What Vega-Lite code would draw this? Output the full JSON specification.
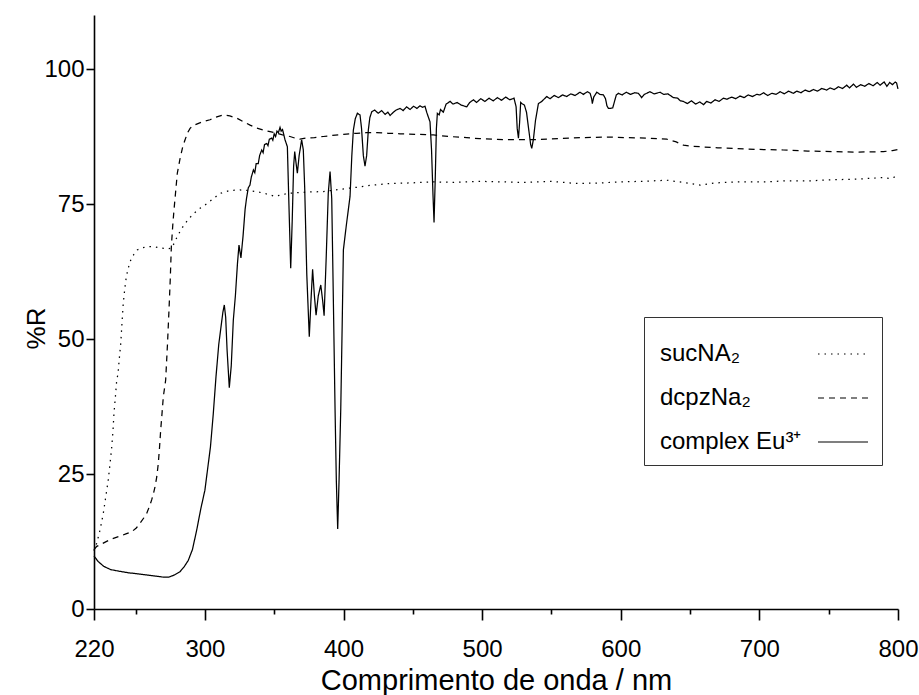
{
  "$schema": "https://vega.github.io/schema/vega-lite/v6.json",
  "width": 804,
  "height": 594,
  "autosize": "none",
  "padding": {"left": 94, "top": 15, "right": 21, "bottom": 86},
  "config": {"view": {"stroke": null}, "font": "Liberation Sans", "background": "white"},
  "data": {"values": [
{"s":"suc","nm":220,"r":10.8},{"s":"suc","nm":222,"r":12.2},{"s":"suc","nm":224.5,"r":14.8},{"s":"suc","nm":226.7,"r":17.7},{"s":"suc","nm":228.5,"r":20.8},{"s":"suc","nm":230.3,"r":23.9},{"s":"suc","nm":231.6,"r":27},{"s":"suc","nm":232.8,"r":30},{"s":"suc","nm":233.7,"r":33},{"s":"suc","nm":234.4,"r":36.2},{"s":"suc","nm":235.5,"r":39.5},{"s":"suc","nm":236.4,"r":42.4},{"s":"suc","nm":237.3,"r":43.5},{"s":"suc","nm":238.3,"r":46.5},{"s":"suc","nm":239.3,"r":49.2},{"s":"suc","nm":240.2,"r":53},{"s":"suc","nm":241.1,"r":56.6},{"s":"suc","nm":242.2,"r":59.3},{"s":"suc","nm":243.3,"r":61.5},{"s":"suc","nm":244.8,"r":63.2},{"s":"suc","nm":246.5,"r":64.6},{"s":"suc","nm":248.8,"r":65.7},{"s":"suc","nm":251.2,"r":66.5},{"s":"suc","nm":255,"r":66.9},{"s":"suc","nm":258.5,"r":67.1},{"s":"suc","nm":263.3,"r":67.1},{"s":"suc","nm":267,"r":66.9},{"s":"suc","nm":270.5,"r":66.8},{"s":"suc","nm":273,"r":66.7},{"s":"suc","nm":275.8,"r":66.8},{"s":"suc","nm":278,"r":67.8},{"s":"suc","nm":280.1,"r":69},{"s":"suc","nm":282.5,"r":70.1},{"s":"suc","nm":284.9,"r":71.1},{"s":"suc","nm":288.5,"r":72.3},{"s":"suc","nm":292.2,"r":73.3},{"s":"suc","nm":297,"r":74.3},{"s":"suc","nm":301.7,"r":75.1},{"s":"suc","nm":306.5,"r":76.1},{"s":"suc","nm":311.4,"r":77},{"s":"suc","nm":318,"r":77.5},{"s":"suc","nm":325.3,"r":77.6},{"s":"suc","nm":331,"r":77.5},{"s":"suc","nm":337.4,"r":77.3},{"s":"suc","nm":344,"r":76.9},{"s":"suc","nm":350.6,"r":76.4},{"s":"suc","nm":355,"r":76.7},{"s":"suc","nm":361.4,"r":77},{"s":"suc","nm":373,"r":77.2},{"s":"suc","nm":385.4,"r":77.3},{"s":"suc","nm":397,"r":77.7},{"s":"suc","nm":409.5,"r":78.1},{"s":"suc","nm":421,"r":78.5},{"s":"suc","nm":433.6,"r":78.8},{"s":"suc","nm":448,"r":78.9},{"s":"suc","nm":464.8,"r":79.1},{"s":"suc","nm":480,"r":79.0},{"s":"suc","nm":497,"r":79.2},{"s":"suc","nm":512.9,"r":79.1},{"s":"suc","nm":530,"r":79.0},{"s":"suc","nm":550,"r":79.2},{"s":"suc","nm":568,"r":78.8},{"s":"suc","nm":585,"r":78.9},{"s":"suc","nm":600,"r":79.1},{"s":"suc","nm":615,"r":79.2},{"s":"suc","nm":633.2,"r":79.4},{"s":"suc","nm":645,"r":79.0},{"s":"suc","nm":657.2,"r":78.5},{"s":"suc","nm":668,"r":78.9},{"s":"suc","nm":685,"r":79.1},{"s":"suc","nm":705.3,"r":79.1},{"s":"suc","nm":720,"r":79.3},{"s":"suc","nm":737,"r":79.3},{"s":"suc","nm":753.4,"r":79.5},{"s":"suc","nm":770,"r":79.6},{"s":"suc","nm":789.5,"r":79.9},{"s":"suc","nm":795,"r":79.7},{"s":"suc","nm":800,"r":80.3},
{"s":"dcpz","nm":220,"r":11.0},{"s":"dcpz","nm":222,"r":11.6},{"s":"dcpz","nm":226.7,"r":12.2},{"s":"dcpz","nm":232,"r":12.9},{"s":"dcpz","nm":238.8,"r":13.5},{"s":"dcpz","nm":243,"r":13.9},{"s":"dcpz","nm":247.2,"r":14.3},{"s":"dcpz","nm":250.5,"r":15.0},{"s":"dcpz","nm":253.2,"r":15.9},{"s":"dcpz","nm":256,"r":16.9},{"s":"dcpz","nm":258,"r":17.7},{"s":"dcpz","nm":260,"r":19.0},{"s":"dcpz","nm":261.6,"r":20.2},{"s":"dcpz","nm":263,"r":21.5},{"s":"dcpz","nm":264,"r":22.6},{"s":"dcpz","nm":265.3,"r":24.5},{"s":"dcpz","nm":266.4,"r":27},{"s":"dcpz","nm":267.3,"r":30},{"s":"dcpz","nm":268.1,"r":33.1},{"s":"dcpz","nm":269,"r":36},{"s":"dcpz","nm":270,"r":39.3},{"s":"dcpz","nm":271.7,"r":42.4},{"s":"dcpz","nm":273,"r":49},{"s":"dcpz","nm":274.1,"r":55.4},{"s":"dcpz","nm":275,"r":61},{"s":"dcpz","nm":275.8,"r":67.1},{"s":"dcpz","nm":276.8,"r":71},{"s":"dcpz","nm":277.7,"r":73.9},{"s":"dcpz","nm":278.8,"r":77},{"s":"dcpz","nm":280.1,"r":80.7},{"s":"dcpz","nm":282,"r":83.3},{"s":"dcpz","nm":284,"r":85.6},{"s":"dcpz","nm":285.7,"r":86.9},{"s":"dcpz","nm":287.5,"r":88.2},{"s":"dcpz","nm":289.3,"r":89},{"s":"dcpz","nm":291.5,"r":89.5},{"s":"dcpz","nm":294.1,"r":89.8},{"s":"dcpz","nm":298,"r":90.2},{"s":"dcpz","nm":303.7,"r":90.6},{"s":"dcpz","nm":308,"r":91.1},{"s":"dcpz","nm":313.3,"r":91.5},{"s":"dcpz","nm":318,"r":91.3},{"s":"dcpz","nm":323,"r":90.9},{"s":"dcpz","nm":328,"r":90.2},{"s":"dcpz","nm":332.6,"r":89.6},{"s":"dcpz","nm":337,"r":89.1},{"s":"dcpz","nm":342.2,"r":88.7},{"s":"dcpz","nm":347,"r":88.4},{"s":"dcpz","nm":351.8,"r":88.1},{"s":"dcpz","nm":356,"r":87.8},{"s":"dcpz","nm":361.4,"r":87.5},{"s":"dcpz","nm":365,"r":87.2},{"s":"dcpz","nm":368.6,"r":87},{"s":"dcpz","nm":373,"r":87.2},{"s":"dcpz","nm":379,"r":87.3},{"s":"dcpz","nm":385.4,"r":87.5},{"s":"dcpz","nm":392,"r":87.7},{"s":"dcpz","nm":400,"r":87.9},{"s":"dcpz","nm":409.5,"r":88.1},{"s":"dcpz","nm":416,"r":88.2},{"s":"dcpz","nm":424,"r":88.2},{"s":"dcpz","nm":432,"r":88.1},{"s":"dcpz","nm":440.8,"r":88},{"s":"dcpz","nm":452,"r":87.9},{"s":"dcpz","nm":464.8,"r":87.8},{"s":"dcpz","nm":476,"r":87.5},{"s":"dcpz","nm":488.9,"r":87.3},{"s":"dcpz","nm":498,"r":87.1},{"s":"dcpz","nm":508.1,"r":87},{"s":"dcpz","nm":520,"r":86.9},{"s":"dcpz","nm":537,"r":86.9},{"s":"dcpz","nm":555,"r":87.1},{"s":"dcpz","nm":573,"r":87.3},{"s":"dcpz","nm":590,"r":87.4},{"s":"dcpz","nm":604.3,"r":87.3},{"s":"dcpz","nm":620,"r":87.2},{"s":"dcpz","nm":633.2,"r":87},{"s":"dcpz","nm":640,"r":86.5},{"s":"dcpz","nm":645.2,"r":85.9},{"s":"dcpz","nm":651,"r":85.7},{"s":"dcpz","nm":657.2,"r":85.6},{"s":"dcpz","nm":670,"r":85.4},{"s":"dcpz","nm":681.3,"r":85.3},{"s":"dcpz","nm":700,"r":85.1},{"s":"dcpz","nm":717.3,"r":85},{"s":"dcpz","nm":735,"r":84.8},{"s":"dcpz","nm":753.4,"r":84.7},{"s":"dcpz","nm":770,"r":84.6},{"s":"dcpz","nm":789.5,"r":84.7},{"s":"dcpz","nm":796,"r":84.9},{"s":"dcpz","nm":800,"r":85.1},
{"s":"eu","nm":220,"r":9.8},{"s":"eu","nm":223,"r":8.8},{"s":"eu","nm":227,"r":7.9},{"s":"eu","nm":232,"r":7.3},{"s":"eu","nm":238,"r":7.0},{"s":"eu","nm":245,"r":6.7},{"s":"eu","nm":252,"r":6.5},{"s":"eu","nm":258,"r":6.3},{"s":"eu","nm":264,"r":6.1},{"s":"eu","nm":270,"r":5.9},{"s":"eu","nm":274,"r":5.9},{"s":"eu","nm":278,"r":6.3},{"s":"eu","nm":282,"r":6.9},{"s":"eu","nm":285,"r":7.8},{"s":"eu","nm":288,"r":9.0},{"s":"eu","nm":291,"r":11.0},{"s":"eu","nm":294,"r":14.5},{"s":"eu","nm":297,"r":18.5},{"s":"eu","nm":300,"r":22.0},{"s":"eu","nm":302,"r":26},{"s":"eu","nm":304,"r":30},{"s":"eu","nm":306,"r":36},{"s":"eu","nm":308,"r":43},{"s":"eu","nm":310,"r":49},{"s":"eu","nm":311.5,"r":52},{"s":"eu","nm":313,"r":55},{"s":"eu","nm":314,"r":56.3},{"s":"eu","nm":315,"r":54},{"s":"eu","nm":316,"r":48},{"s":"eu","nm":317.6,"r":41},{"s":"eu","nm":319,"r":45},{"s":"eu","nm":320.5,"r":53.5},{"s":"eu","nm":322,"r":58},{"s":"eu","nm":323.5,"r":64},{"s":"eu","nm":324.6,"r":67.4},{"s":"eu","nm":326,"r":65},{"s":"eu","nm":327.5,"r":69},{"s":"eu","nm":329,"r":74},{"s":"eu","nm":330,"r":76},{"s":"eu","nm":331.3,"r":78},{"s":"eu","nm":332.5,"r":78.5},{"s":"eu","nm":333.5,"r":80},{"s":"eu","nm":335,"r":81.3},{"s":"eu","nm":336,"r":80.8},{"s":"eu","nm":337,"r":82.5},{"s":"eu","nm":338.5,"r":82.5},{"s":"eu","nm":339.5,"r":84},{"s":"eu","nm":341,"r":85},{"s":"eu","nm":342,"r":84.5},{"s":"eu","nm":343,"r":86},{"s":"eu","nm":344.6,"r":86.2},{"s":"eu","nm":345.5,"r":85.8},{"s":"eu","nm":346.5,"r":87},{"s":"eu","nm":348.2,"r":87.2},{"s":"eu","nm":349,"r":86.8},{"s":"eu","nm":350,"r":88},{"s":"eu","nm":351,"r":87.5},{"s":"eu","nm":352,"r":88.5},{"s":"eu","nm":353,"r":88.2},{"s":"eu","nm":354.2,"r":89.2},{"s":"eu","nm":355,"r":88.5},{"s":"eu","nm":356,"r":88.8},{"s":"eu","nm":357.8,"r":86.9},{"s":"eu","nm":359.5,"r":85.6},{"s":"eu","nm":360.5,"r":76},{"s":"eu","nm":361.9,"r":63.1},{"s":"eu","nm":363,"r":72},{"s":"eu","nm":364,"r":82},{"s":"eu","nm":364.8,"r":84.7},{"s":"eu","nm":365.8,"r":82.5},{"s":"eu","nm":366.7,"r":80.7},{"s":"eu","nm":368,"r":84},{"s":"eu","nm":369.8,"r":86.9},{"s":"eu","nm":371,"r":85},{"s":"eu","nm":372,"r":78},{"s":"eu","nm":373.5,"r":62},{"s":"eu","nm":375.3,"r":50.4},{"s":"eu","nm":376.5,"r":57},{"s":"eu","nm":377.7,"r":62.9},{"s":"eu","nm":379,"r":58},{"s":"eu","nm":380.2,"r":54.4},{"s":"eu","nm":381.8,"r":58},{"s":"eu","nm":383.6,"r":60},{"s":"eu","nm":385,"r":57},{"s":"eu","nm":386,"r":54.3},{"s":"eu","nm":387.5,"r":65},{"s":"eu","nm":389,"r":77},{"s":"eu","nm":390.3,"r":81},{"s":"eu","nm":391.5,"r":76},{"s":"eu","nm":392.5,"r":60},{"s":"eu","nm":393.9,"r":36.9},{"s":"eu","nm":394.8,"r":24},{"s":"eu","nm":395.8,"r":14.8},{"s":"eu","nm":396.8,"r":24},{"s":"eu","nm":398,"r":36.9},{"s":"eu","nm":399,"r":52},{"s":"eu","nm":399.9,"r":66.5},{"s":"eu","nm":402,"r":71},{"s":"eu","nm":404.7,"r":76.4},{"s":"eu","nm":406,"r":84},{"s":"eu","nm":407.1,"r":88.7},{"s":"eu","nm":408.5,"r":90.8},{"s":"eu","nm":410,"r":91.8},{"s":"eu","nm":411.9,"r":91.5},{"s":"eu","nm":413,"r":89},{"s":"eu","nm":414.3,"r":84},{"s":"eu","nm":415.5,"r":82},{"s":"eu","nm":416.7,"r":84},{"s":"eu","nm":417.9,"r":88.7},{"s":"eu","nm":419,"r":91},{"s":"eu","nm":420.4,"r":92.1},{"s":"eu","nm":422.5,"r":92.4},{"s":"eu","nm":425,"r":91.8},{"s":"eu","nm":427.5,"r":92.3},{"s":"eu","nm":430,"r":91.6},{"s":"eu","nm":432,"r":92.0},{"s":"eu","nm":433.6,"r":91.4},{"s":"eu","nm":436,"r":92.0},{"s":"eu","nm":438,"r":92.4},{"s":"eu","nm":440.8,"r":92.7},{"s":"eu","nm":443,"r":92.3},{"s":"eu","nm":445.5,"r":93.0},{"s":"eu","nm":448,"r":92.5},{"s":"eu","nm":450.5,"r":93.1},{"s":"eu","nm":453,"r":92.7},{"s":"eu","nm":455.2,"r":93.2},{"s":"eu","nm":457,"r":92.9},{"s":"eu","nm":458.8,"r":93.1},{"s":"eu","nm":460,"r":92.0},{"s":"eu","nm":462.4,"r":90.2},{"s":"eu","nm":463.5,"r":85},{"s":"eu","nm":464.5,"r":77},{"s":"eu","nm":465.3,"r":71.6},{"s":"eu","nm":466.2,"r":80},{"s":"eu","nm":467,"r":89},{"s":"eu","nm":467.7,"r":91.8},{"s":"eu","nm":469,"r":91.5},{"s":"eu","nm":470,"r":92.5},{"s":"eu","nm":472,"r":92.0},{"s":"eu","nm":474,"r":93.5},{"s":"eu","nm":476.9,"r":94},{"s":"eu","nm":479,"r":93.5},{"s":"eu","nm":482,"r":93.8},{"s":"eu","nm":485,"r":93.3},{"s":"eu","nm":488.9,"r":93},{"s":"eu","nm":491,"r":93.8},{"s":"eu","nm":493.7,"r":94.3},{"s":"eu","nm":496,"r":93.8},{"s":"eu","nm":499,"r":94.5},{"s":"eu","nm":502,"r":94.0},{"s":"eu","nm":505,"r":94.6},{"s":"eu","nm":508,"r":94.1},{"s":"eu","nm":511,"r":94.7},{"s":"eu","nm":514,"r":94.2},{"s":"eu","nm":517,"r":94.8},{"s":"eu","nm":520,"r":94.3},{"s":"eu","nm":523,"r":94.6},{"s":"eu","nm":524.5,"r":93},{"s":"eu","nm":525.3,"r":89},{"s":"eu","nm":526.2,"r":87.2},{"s":"eu","nm":527,"r":90},{"s":"eu","nm":527.8,"r":93.8},{"s":"eu","nm":528.6,"r":93.6},{"s":"eu","nm":530.5,"r":93.3},{"s":"eu","nm":532,"r":92},{"s":"eu","nm":533.5,"r":89},{"s":"eu","nm":535,"r":86},{"s":"eu","nm":535.8,"r":85.3},{"s":"eu","nm":537,"r":87},{"s":"eu","nm":538.5,"r":90.5},{"s":"eu","nm":540.6,"r":93.6},{"s":"eu","nm":543,"r":94},{"s":"eu","nm":546.6,"r":94.9},{"s":"eu","nm":549,"r":94.5},{"s":"eu","nm":552,"r":95.1},{"s":"eu","nm":555,"r":94.7},{"s":"eu","nm":558,"r":95.2},{"s":"eu","nm":561,"r":94.9},{"s":"eu","nm":564,"r":95.4},{"s":"eu","nm":567,"r":95.1},{"s":"eu","nm":570.6,"r":95.7},{"s":"eu","nm":573,"r":95.3},{"s":"eu","nm":576,"r":95.8},{"s":"eu","nm":577.9,"r":95.5},{"s":"eu","nm":579,"r":94.5},{"s":"eu","nm":579.5,"r":93.6},{"s":"eu","nm":580.5,"r":94.8},{"s":"eu","nm":582.7,"r":95.7},{"s":"eu","nm":585,"r":95.3},{"s":"eu","nm":587.5,"r":95.2},{"s":"eu","nm":589,"r":94.5},{"s":"eu","nm":590,"r":93.2},{"s":"eu","nm":591.1,"r":92.7},{"s":"eu","nm":592.6,"r":92.7},{"s":"eu","nm":594.2,"r":92.8},{"s":"eu","nm":595.5,"r":94},{"s":"eu","nm":596.8,"r":95.2},{"s":"eu","nm":598.3,"r":95.5},{"s":"eu","nm":601,"r":95.2},{"s":"eu","nm":604,"r":95.7},{"s":"eu","nm":607,"r":95.3},{"s":"eu","nm":610,"r":95.6},{"s":"eu","nm":612.7,"r":95.5},{"s":"eu","nm":615.1,"r":94.7},{"s":"eu","nm":617,"r":95.3},{"s":"eu","nm":618.7,"r":95.5},{"s":"eu","nm":621,"r":95.8},{"s":"eu","nm":624,"r":95.4},{"s":"eu","nm":628.4,"r":95.7},{"s":"eu","nm":631,"r":95.3},{"s":"eu","nm":634,"r":95.4},{"s":"eu","nm":638,"r":94.7},{"s":"eu","nm":641,"r":94.6},{"s":"eu","nm":643,"r":94.1},{"s":"eu","nm":645.2,"r":94},{"s":"eu","nm":648,"r":93.6},{"s":"eu","nm":651,"r":94.1},{"s":"eu","nm":654,"r":93.5},{"s":"eu","nm":657,"r":93.9},{"s":"eu","nm":659.7,"r":93.4},{"s":"eu","nm":662,"r":94.0},{"s":"eu","nm":665,"r":93.7},{"s":"eu","nm":668,"r":94.3},{"s":"eu","nm":671,"r":94.0},{"s":"eu","nm":674,"r":94.6},{"s":"eu","nm":676.5,"r":94.4},{"s":"eu","nm":680,"r":94.8},{"s":"eu","nm":683,"r":94.5},{"s":"eu","nm":686,"r":95.0},{"s":"eu","nm":689,"r":94.7},{"s":"eu","nm":692,"r":95.2},{"s":"eu","nm":695,"r":94.9},{"s":"eu","nm":698,"r":95.3},{"s":"eu","nm":700.5,"r":95.2},{"s":"eu","nm":703,"r":95.6},{"s":"eu","nm":706,"r":95.1},{"s":"eu","nm":709,"r":95.5},{"s":"eu","nm":712,"r":95.3},{"s":"eu","nm":715,"r":95.8},{"s":"eu","nm":718,"r":95.4},{"s":"eu","nm":721,"r":95.9},{"s":"eu","nm":724.5,"r":95.5},{"s":"eu","nm":727,"r":95.9},{"s":"eu","nm":730,"r":95.6},{"s":"eu","nm":733,"r":96.1},{"s":"eu","nm":736,"r":95.8},{"s":"eu","nm":739,"r":96.2},{"s":"eu","nm":742,"r":95.9},{"s":"eu","nm":745,"r":96.4},{"s":"eu","nm":748.6,"r":96.1},{"s":"eu","nm":751,"r":96.5},{"s":"eu","nm":754,"r":96.2},{"s":"eu","nm":757,"r":96.7},{"s":"eu","nm":760,"r":96.4},{"s":"eu","nm":763,"r":97.0},{"s":"eu","nm":765,"r":96.5},{"s":"eu","nm":767.9,"r":97.2},{"s":"eu","nm":770,"r":96.6},{"s":"eu","nm":773,"r":97.1},{"s":"eu","nm":776,"r":96.8},{"s":"eu","nm":779,"r":97.3},{"s":"eu","nm":782,"r":96.9},{"s":"eu","nm":785,"r":97.5},{"s":"eu","nm":787.1,"r":97.0},{"s":"eu","nm":790,"r":97.6},{"s":"eu","nm":792,"r":96.8},{"s":"eu","nm":794,"r":97.5},{"s":"eu","nm":796,"r":97.1},{"s":"eu","nm":798,"r":97.6},{"s":"eu","nm":799,"r":97.4},{"s":"eu","nm":800,"r":96.3}
  ]},
  "mark": {"type": "line", "strokeWidth": 1.25, "color": "black"},
  "encoding": {
    "x": {
      "field": "nm", "type": "quantitative",
      "scale": {"domain": [220, 800], "nice": false, "zero": false},
      "axis": {
        "values": [220, 250, 300, 350, 400, 450, 500, 550, 600, 650, 700, 750, 800],
        "labelExpr": "(datum.value % 100 == 0 || datum.value == 220) ? datum.label : ''",
        "tickSize": {"condition": {"test": "datum.value % 100 == 50", "value": 5}, "value": 11},
        "grid": false, "domainColor": "black", "domainWidth": 1.6, "tickColor": "black", "tickWidth": 1.6,
        "labelFontSize": 24, "labelColor": "black", "labelPadding": 17, "labelOverlap": false, "labelFlush": false,
        "title": "Comprimento de onda / nm", "titleFontSize": 29, "titleFontWeight": "normal", "titleColor": "black", "titlePadding": 5
      }
    },
    "y": {
      "field": "r", "type": "quantitative",
      "scale": {"domain": [0, 110], "nice": false, "zero": true},
      "axis": {
        "values": [0, 25, 50, 75, 100],
        "grid": false, "domainColor": "black", "domainWidth": 1.6, "tickColor": "black", "tickWidth": 1.6, "tickSize": 8,
        "labelFontSize": 24, "labelColor": "black", "labelPadding": 2, "labelOverlap": false, "labelFlush": false,
        "title": "%R", "titleFontSize": 26, "titleFontWeight": "normal", "titleColor": "black",
        "titleX": -45, "titleY": 313
      }
    },
    "strokeDash": {
      "field": "s", "type": "nominal",
      "scale": {"domain": ["suc", "dcpz", "eu"], "range": [[1.5, 5], [6, 5], [1, 0]]},
      "legend": {
        "orient": "none", "legendX": 550, "legendY": 302, "title": null,
        "labelExpr": "datum.label == 'suc' ? 'sucNA₂' : datum.label == 'dcpz' ? 'dcpzNa₂' : 'complex Eu³⁺'",
        "padding": 11, "strokeColor": "#333", "fillColor": "white",
        "labelFontSize": 24, "labelColor": "black", "labelLimit": 300,
        "labelOffset": -209, "symbolOffset": 162, "symbolSize": 2500, "symbolType": "stroke",
        "symbolStrokeColor": "black", "symbolStrokeWidth": 1.2, "rowPadding": 6
      }
    }
  }
}
